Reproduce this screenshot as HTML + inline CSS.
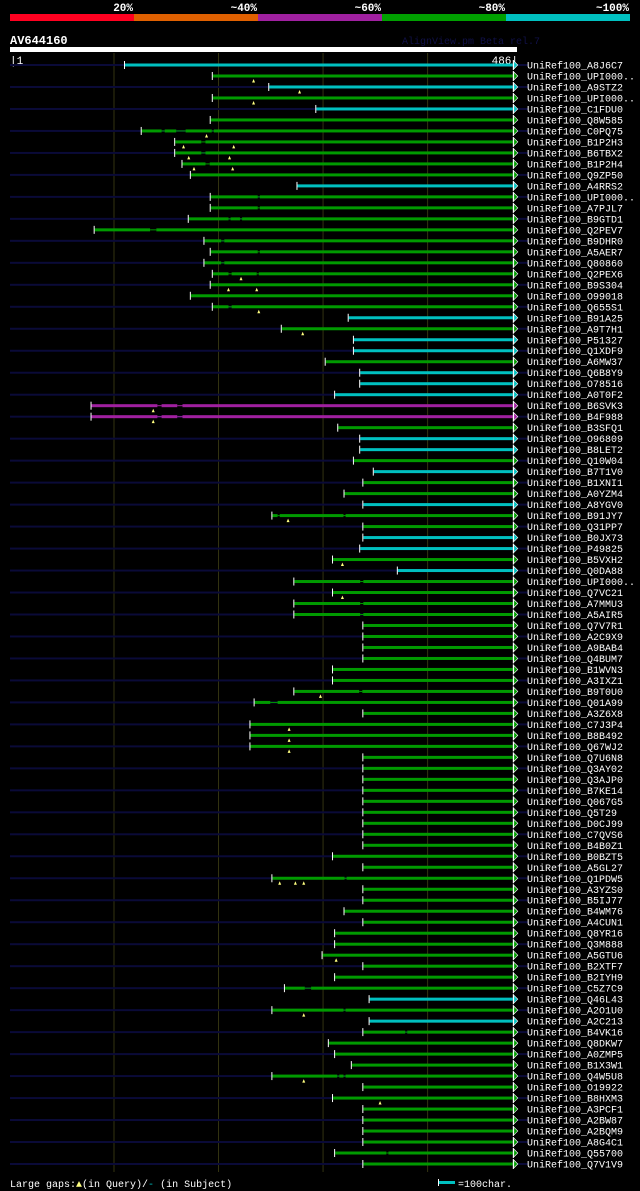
<!DOCTYPE html>
<html><head><meta charset="utf-8">
<style>
html,body{margin:0;padding:0;background:#000;width:640px;height:1191px;overflow:hidden}
svg{display:block}
text{font-family:"Liberation Mono",monospace}
</style></head>
<body>
<svg id="chart" width="640" height="1191" viewBox="0 0 640 1191" xmlns="http://www.w3.org/2000/svg">
  <g>
    <rect x="10" y="14" width="124" height="7" fill="#ff0020"/>
    <rect x="134" y="14" width="124" height="7" fill="#e06000"/>
    <rect x="258" y="14" width="124" height="7" fill="#a020a0"/>
    <rect x="382" y="14" width="124" height="7" fill="#00a000"/>
    <rect x="506" y="14" width="124" height="7" fill="#00c0c0"/>
    <text x="133" y="11" fill="#fff" font-size="11" font-weight="bold" text-anchor="end">20%</text>
    <text x="257" y="11" fill="#fff" font-size="11" font-weight="bold" text-anchor="end">~40%</text>
    <text x="381" y="11" fill="#fff" font-size="11" font-weight="bold" text-anchor="end">~60%</text>
    <text x="505" y="11" fill="#fff" font-size="11" font-weight="bold" text-anchor="end">~80%</text>
    <text x="629" y="11" fill="#fff" font-size="11" font-weight="bold" text-anchor="end">~100%</text>
  </g>
  <text x="10" y="44" fill="#fff" font-size="12" font-weight="bold">AV644160</text>
  <text x="402" y="44" fill="#101048" font-size="10">AlignView.pm Beta rel.7</text>
  <rect x="10" y="47" width="507" height="5" fill="#fff"/>
  <text x="10" y="64" fill="#fff" font-size="11">|1</text>
  <text x="518" y="64" fill="#fff" font-size="11" text-anchor="end">486|</text>
  <g id="grid"></g>
  <g id="rows"></g>
  <text x="10" y="1187" fill="#fff" font-size="10">Large gaps:<tspan fill="#ffff80">▲</tspan>(in Query)/<tspan fill="#00c0c0">-</tspan> (in Subject)</text>
  <rect x="439" y="1181" width="16" height="3" fill="#00c0c0"/>
  <rect x="438" y="1179" width="1" height="7" fill="#fff"/>
  <text x="458" y="1187" fill="#fff" font-size="10">=100char.</text>
</svg>
<script>
const names=["A8J6C7","UPI000..","A9STZ2","UPI000..","C1FDU0","Q8W585","C0PQ75","B1P2H3","B6TBX2","B1P2H4","Q9ZP50","A4RRS2","UPI000..","A7PJL7","B9GTD1","Q2PEV7","B9DHR0","A5AER7","Q80860","Q2PEX6","B9S304","O99018","Q655S1","B91A25","A9T7H1","P51327","Q1XDF9","A6MW37","Q6B8Y9","O78516","A0T0F2","B6SVK3","B4F988","B3SFQ1","O96809","B8LET2","Q10W04","B7T1V0","B1XNI1","A0YZM4","A8YGV0","B91JY7","Q31PP7","B0JX73","P49825","B5VXH2","Q0DA88","UPI000..","Q7VC21","A7MMU3","A5AIR5","Q7V7R1","A2C9X9","A9BAB4","Q4BUM7","B1WVN3","A3IXZ1","B9T0U0","Q01A99","A3Z6X8","C7J3P4","B8B492","Q67WJ2","Q7U6N8","Q3AY02","Q3AJP0","B7KE14","Q067G5","Q5T29","D0CJ99","C7QVS6","B4B0Z1","B0BZT5","A5GL27","Q1PDW5","A3YZS0","B5IJ77","B4WM76","A4CUN1","Q8YR16","Q3M888","A5GTU6","B2XTF7","B2IYH9","C5Z7C9","Q46L43","A2O1U0","A2C213","B4VK16","Q8DKW7","A0ZMP5","B1X3W1","Q4W5U8","O19922","B8HXM3","A3PCF1","A2BW87","A2BQM9","A8G4C1","Q55700","Q7V1V9"];
const starts=[111,195,249,195,294,193,127,159,159,166,174,276,193,193,172,82,187,193,187,195,193,174,195,325,261,330,330,303,336,336,312,79,79,315,336,336,330,349,339,321,339,252,339,339,336,310,372,273,310,273,273,339,339,339,339,310,310,273,235,339,231,231,231,339,339,339,339,339,339,339,339,339,310,339,252,339,339,321,339,312,312,300,339,312,264,345,252,345,339,306,312,328,252,339,310,339,339,339,339,312,339];
// identity classes by row number (1-based); all others ~80% green
const cyanRows=[1,3,5,12,24,26,27,29,30,31,35,36,38,41,44,45,47,86,88];
const magentaRows=[32,33];
const queryGaps={6:[[146,149],[160,169],[194,196]],7:[[184,188]],8:[[184,188]],9:[[188,192]],12:[[238,240]],13:[[238,240]],14:[[210,212],[221,223]],15:[[135,141]],16:[[203,206]],17:[[238,240]],18:[[203,206]],19:[[210,213],[237,239]],22:[[210,213]],31:[[142,146],[161,166]],32:[[142,146],[161,166]],41:[[257,259],[320,322]],47:[[336,339]],49:[[336,339]],50:[[336,339]],57:[[335,338]],58:[[250,257]],74:[[321,323]],84:[[283,289]],86:[[320,322]],88:[[379,381]],92:[[314,316],[320,322]],99:[[361,363]]};
const insertMarks={1:[234],2:[278],3:[234],6:[189],7:[167,215],8:[172,211],9:[177,214],19:[222],20:[210,237],22:[239],24:[281],31:[138],32:[138],41:[267],45:[319],48:[319],57:[298],60:[268],61:[268],62:[268],74:[259,274,282],81:[313],86:[282],92:[282],94:[355]};
const gridTicks=[100,200,300,400];
const QLEN=486;

const NS="http://www.w3.org/2000/svg";
const X0=10,X1=517;
function xs(p){return X0+(p-1)*(X1-X0)/(QLEN-1);}
function ys(i){return 65+i*10.99;}
function colorFor(i){const r=i+1;if(cyanRows.includes(r))return "#00c0c0";if(magentaRows.includes(r))return "#a020a0";return "#009a00";}
function mk(tag,attrs,parent){const e=document.createElementNS(NS,tag);for(const k in attrs)e.setAttribute(k,attrs[k]);parent.appendChild(e);return e;}

const grid=document.getElementById('grid');
gridTicks.forEach(t=>{
  const l=mk('line',{x1:xs(t)+0.5,x2:xs(t)+0.5,y1:53,y2:1172,stroke:'#333311','stroke-width':1},grid);
  
  
});

const rowsG=document.getElementById('rows');
names.forEach((n,i)=>{
  const y=ys(i);
  const g=mk('g',{},rowsG);
  
  
  if(i%2===0){
    const bg=mk('rect',{x:X0,y:y-1,width:518,height:2,fill:'#0a0a38'},g);
    
    
  }
  const col=colorFor(i);
  const s=starts[i], e=482;
  const gaps=(queryGaps[i]||[]).slice().sort((a,b)=>a[0]-b[0]);
  let cur=s;
  const segs=[];
  gaps.forEach(gp=>{segs.push([cur,gp[0],3]);segs.push([gp[0],gp[1],1]);cur=gp[1];});
  segs.push([cur,e,3]);
  segs.forEach(sg=>{
    const r=mk('rect',{x:xs(sg[0]),y:y-sg[2]/2,width:Math.max(0,xs(sg[1])-xs(sg[0])),height:sg[2],fill:col},g);
    
    
  });
  const tick=mk('rect',{x:xs(s)-1,y:y-4,width:1,height:8,fill:'#fff'},g);
  
  
  const ex=xs(e);
  const endl=mk('rect',{x:ex,y:y-5,width:1,height:10,fill:'#fff'},g);
  
  
  const ar=mk('polygon',{points:`${ex+1},${y-4} ${ex+5},${y} ${ex+1},${y+4}`,fill:col,stroke:'#fff','stroke-width':0.6},g);
  
  
  (insertMarks[i]||[]).forEach(p=>{
    const tx=xs(p);
    const m=mk('path',{d:`M${tx-1.5},${y+6.5} L${tx},${y+3} L${tx+1.5},${y+6.5} Z`,fill:'#ffff80'},g);
    
    
  });
  const t=mk('text',{x:527,y:y+3.5,fill:'#fff','font-size':10},g);
  t.textContent='UniRef100_'+n;
  
  
});
</script>
</body></html>
